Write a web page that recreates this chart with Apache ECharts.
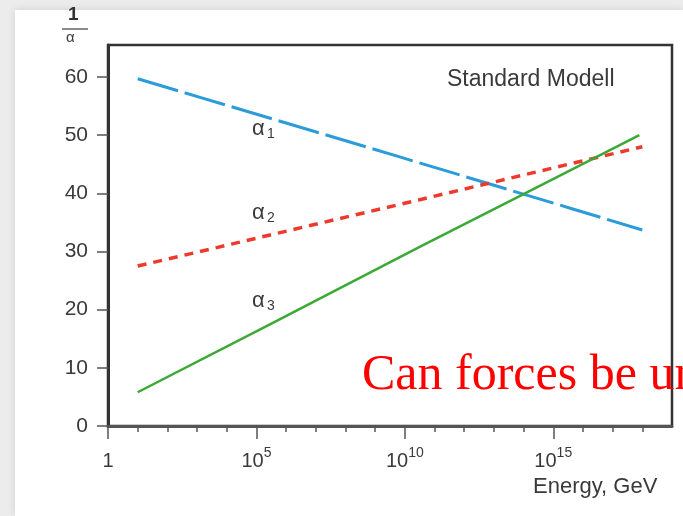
<!DOCTYPE html>
<html>
<head>
<meta charset="utf-8">
<script src="https://cdn.jsdelivr.net/npm/echarts@6.0.0/dist/echarts.min.js"></script>
<style>
  html, body { margin: 0; padding: 0; background: #ececec; }
  #paper { position: absolute; left: 15px; top: 10px; width: 668px; height: 506px;
           background: #fff; box-shadow: 0 0 8px rgba(0,0,0,0.12); }
  #main { position: absolute; left: 0; top: 0; width: 683px; height: 516px; }
</style>
</head>
<body>
<div id="paper"></div>
<div id="main"></div>
<script>
// log10 of energy (GeV) -> 1/alpha
const energyExp1 = [1.0, 3.1, 9.8, 15.6, 18.0];
const alpha1 = [59.7, 56.5, 46.3, 37.4, 33.7];
const energyExp2 = [1.0, 3.1, 10.5, 15.6, 18.0];
const alpha2 = [27.5, 30.0, 38.9, 45.1, 48.0];
const energyExp3 = [1.0, 5.7, 10.5, 13.9, 17.9];
const alpha3 = [5.8, 18.1, 30.8, 39.6, 50.0];

const yTicks = [0, 10, 20, 30, 40, 50, 60];
const xMajor = [0, 5, 10, 15];
const xMinor = [1, 2, 3, 4, 6, 7, 8, 9, 11, 12, 13, 14, 16, 17, 18];

const pairs = (xs, ys) => xs.map((x, i) => [x, ys[i]]);

const sans = 'Liberation Sans, Arial, sans-serif';
const grey = '#3a3a3a';

const myChart = echarts.init(document.getElementById('main'));

myChart.setOption({
  animation: false,
  grid: {
    left: 108, right: 11, top: 45, bottom: 90,
    show: true, borderColor: '#333', borderWidth: 2.5, backgroundColor: 'transparent'
  },
  xAxis: [
    {
      type: 'value', min: 0, max: 19, position: 'bottom',
      axisLine: { lineStyle: { color: '#555', width: 3 } },
      splitLine: { show: false },
      axisTick: { customValues: xMajor, length: 13, lineStyle: { color: '#555', width: 1.5 } },
      axisLabel: {
        customValues: xMajor,
        margin: 20,
        color: grey,
        fontFamily: sans,
        fontSize: 20,
        formatter: (v) => v === 0 ? '{b|1}{z| }' : '{b|10}{s|' + v + '}',
        rich: {
          b: { fontSize: 20, fontFamily: sans, color: grey, verticalAlign: 'bottom' },
          s: { fontSize: 14, fontFamily: sans, color: grey, verticalAlign: 'bottom', padding: [0, 0, 11, 0] },
          z: { fontSize: 14, width: 0, verticalAlign: 'bottom', padding: [0, 0, 11, 0] }
        }
      }
    },
    {
      type: 'value', min: 0, max: 19, position: 'bottom',
      axisLine: { show: false },
      splitLine: { show: false },
      axisTick: { customValues: xMinor, length: 6, lineStyle: { color: '#555', width: 1.5 } },
      axisLabel: { show: false }
    }
  ],
  yAxis: {
    type: 'value', min: 0, max: 65.5,
    axisLine: { show: true, lineStyle: { color: '#333', width: 3 } },
    splitLine: { show: false },
    axisTick: { show: true, customValues: yTicks, length: 11, lineStyle: { color: '#555', width: 1.5 } },
    axisLabel: { customValues: yTicks, margin: 20, color: grey, fontFamily: sans, fontSize: 21 }
  },
  series: [
    {
      name: 'alpha1', type: 'line', showSymbol: false, xAxisIndex: 0,
      data: pairs(energyExp1, alpha1),
      lineStyle: { color: '#2b9bd9', width: 3, type: [42, 7] }
    },
    {
      name: 'alpha2', type: 'line', showSymbol: false, xAxisIndex: 0,
      data: pairs(energyExp2, alpha2),
      lineStyle: { color: '#ee3a2c', width: 3.5, type: [9, 7] }
    },
    {
      name: 'alpha3', type: 'line', showSymbol: false, xAxisIndex: 0,
      data: pairs(energyExp3, alpha3),
      lineStyle: { color: '#3aa935', width: 2.5 }
    }
  ],
  graphic: [
    // 1/alpha axis title
    { type: 'text', left: 68, top: 5, style: { text: '1', font: 'bold 19px ' + sans, fill: '#333' } },
    { type: 'line', shape: { x1: 62, y1: 29, x2: 88, y2: 29 }, style: { stroke: '#666', lineWidth: 1.5 } },
    { type: 'text', left: 66, top: 30, style: { text: 'α', font: '15px ' + sans, fill: grey } },
    // curve labels
    { type: 'text', left: 252, top: 118, style: { text: 'α', font: '22px ' + sans, fill: grey } },
    { type: 'text', left: 267, top: 127, style: { text: '1', font: '14px ' + sans, fill: grey } },
    { type: 'text', left: 252, top: 202, style: { text: 'α', font: '22px ' + sans, fill: grey } },
    { type: 'text', left: 267, top: 211, style: { text: '2', font: '14px ' + sans, fill: grey } },
    { type: 'text', left: 252, top: 290, style: { text: 'α', font: '22px ' + sans, fill: grey } },
    { type: 'text', left: 267, top: 299, style: { text: '3', font: '14px ' + sans, fill: grey } },
    // box title and axis name
    { type: 'text', left: 447, top: 68, style: { text: 'Standard Modell', font: '23px ' + sans, fill: grey } },
    { type: 'text', left: 533, top: 476, style: { text: 'Energy, GeV', font: '22px ' + sans, fill: grey } },
    // overlaid caption
    { type: 'text', left: 362, top: 351, style: { text: 'Can forces be unified?', font: '50px Liberation Serif, Times New Roman, serif', fill: '#ff0000' } }
  ]
});
</script>
</body>
</html>
